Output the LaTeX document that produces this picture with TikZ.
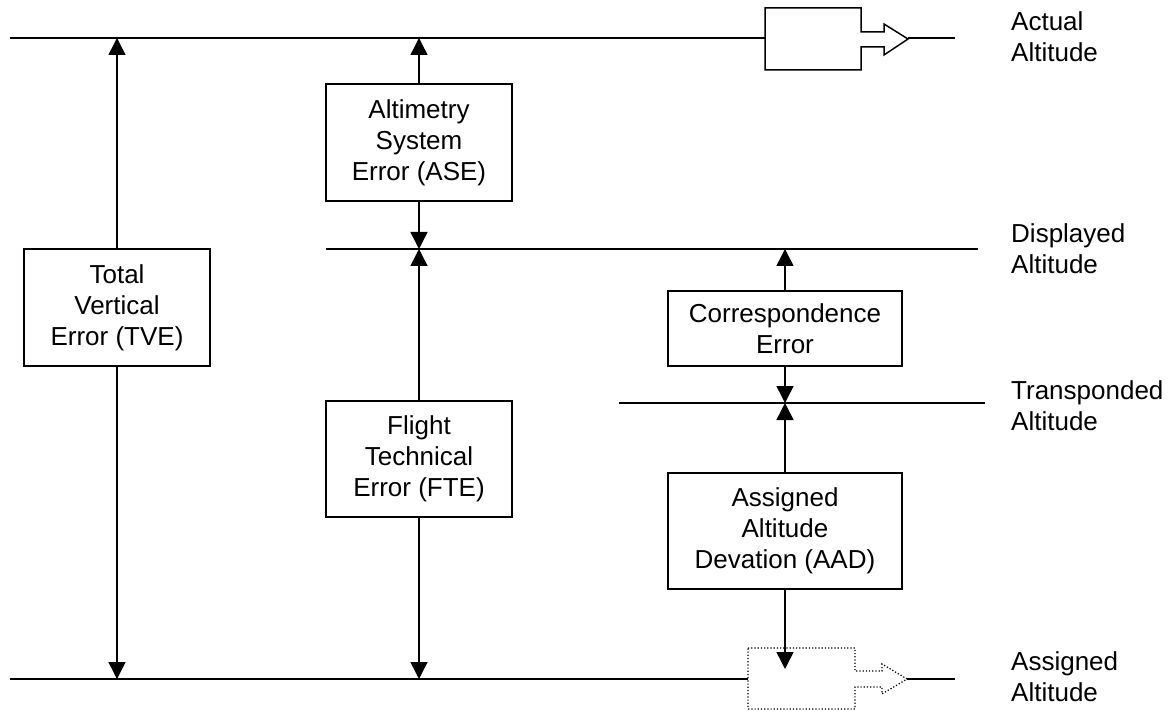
\documentclass[tikz,border=0pt]{standalone}
\usepackage{fontspec}
\setmainfont{Liberation Sans}
\usetikzlibrary{arrows.meta}
\begin{document}
\begin{tikzpicture}[x=1pt,y=-1pt,
  every node/.style={font=\fontsize{26}{31}\selectfont},
  errbox/.style={draw,line width=1.5pt,align=center,inner sep=0pt,minimum width=186pt,minimum height=117pt},
  widebox/.style={errbox,minimum width=234pt},
  level/.style={line width=1.5pt},
  arr/.style={line width=1.5pt,-{Triangle[length=17pt,width=17pt]}},
  lbl/.style={anchor=north west,align=left,inner sep=0pt},
  plane/.style={line width=1.5pt,fill=white},
  ghost/.style={line width=1.2pt,dotted,fill=white}]
\useasboundingbox (0,0) rectangle (1173,711);

% level lines
\coordinate (actL) at (10,38);
\coordinate (actA) at (765,38);
\coordinate (actB) at (908,38);
\coordinate (actR) at (955,38);
\coordinate (disL) at (326,249);
\coordinate (disR) at (978,249);
\coordinate (traL) at (619,403);
\coordinate (traR) at (985,403);
\coordinate (assL) at (10,679);
\coordinate (assA) at (748,679);
\coordinate (assB) at (907,679);
\coordinate (assR) at (955,679);

\draw[level] (actL) -- (actA);
\draw[level] (actB) -- (actR);
\draw[level] (disL) -- (disR);
\draw[level] (traL) -- (traR);
\draw[level] (assL) -- (assA);
\draw[level] (assB) -- (assR);

% aircraft symbols
\draw[plane] (765,8) -- (861,8) -- (861,32) -- (884,32) -- (884,24) -- (908,39)
  -- (884,55) -- (884,47) -- (861,47) -- (861,70) -- (765,70) -- cycle;
\draw[ghost] (748,648) -- (855,648) -- (855,671) -- (882,671) -- (882,664) -- (907,679)
  -- (882,694) -- (882,687) -- (855,687) -- (855,709) -- (748,709) -- cycle;

% boxes
\node[errbox] (tve) at (117,307.5) {Total\\Vertical\\Error (TVE)};
\node[errbox] (ase) at (419,142.5) {Altimetry\\System\\Error (ASE)};
\node[errbox,minimum height=116pt] (fte) at (419,459) {Flight\\Technical\\Error (FTE)};
\node[widebox,minimum height=75pt] (ce) at (785,328.5) {Correspondence\\Error};
\node[widebox,minimum height=116pt] (aad) at (785,531) {Assigned\\Altitude\\Devation (AAD)};
\coordinate (aadtip) at (785,669);

% arrows
\draw[arr] (tve.north) -- (tve.north |- actL);
\draw[arr] (tve.south) -- (tve.south |- assL);
\draw[arr] (ase.north) -- (ase.north |- actL);
\draw[arr] (ase.south) -- (ase.south |- disL);
\draw[arr] (fte.north) -- (fte.north |- disL);
\draw[arr] (fte.south) -- (fte.south |- assL);
\draw[arr] (ce.north) -- (ce.north |- disL);
\draw[arr] (ce.south) -- (ce.south |- traL);
\draw[arr] (aad.north) -- (aad.north |- traL);
\draw[arr] (aad.south) -- (aadtip);

% labels
\node[lbl] (lact) at (1011,11) {Actual\\Altitude};
\node[lbl] (ldis) at (1011,223) {Displayed\\Altitude};
\node[lbl] (ltra) at (1011,380) {Transponded\\Altitude};
\node[lbl] (lass) at (1011,651) {Assigned\\Altitude};
\end{tikzpicture}
\end{document}
